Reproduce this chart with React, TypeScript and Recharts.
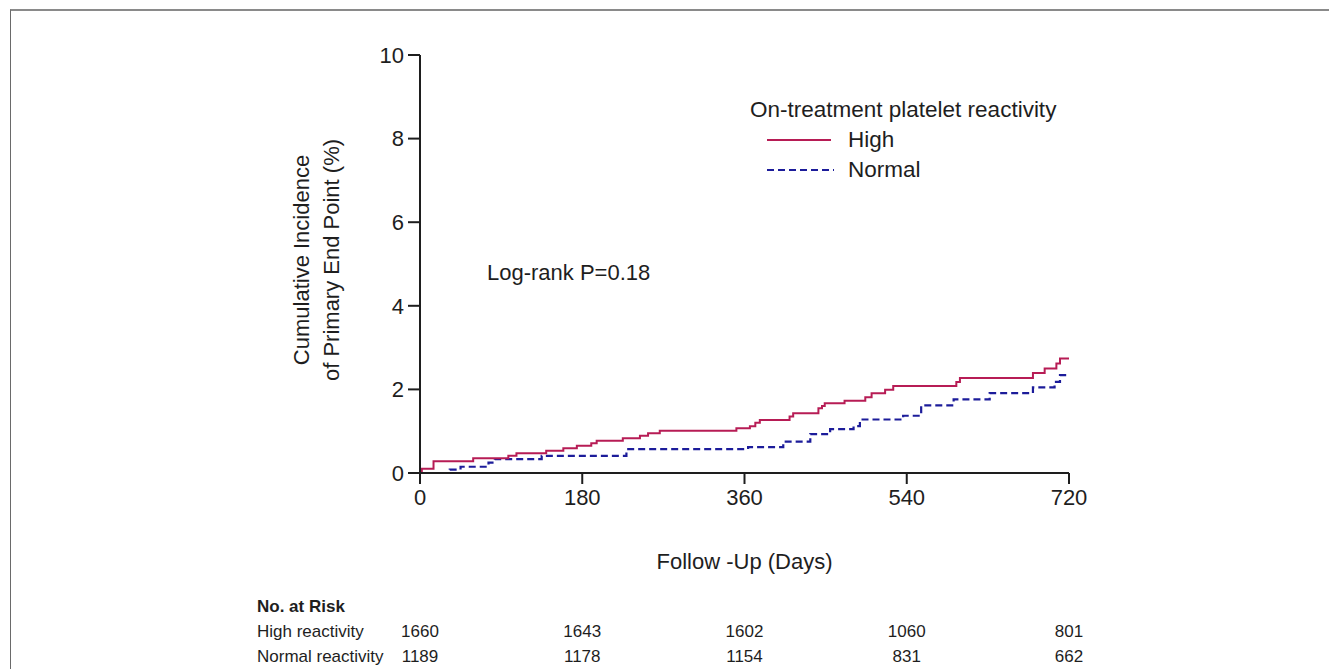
import { LineChart, Line, XAxis, YAxis, Label } from 'recharts';

// follow-up ticks (days) and y ticks (%)
const dayTicks = [0, 180, 360, 540, 720];
const pctTicks = [0, 2, 4, 6, 8, 10];

// High on-treatment platelet reactivity (step curve)
const highDays = [0, 2, 15, 59, 98, 107, 140, 159, 174, 190, 196, 225, 244, 253, 266, 351, 366, 372, 377, 410, 414, 442, 446, 449, 471, 494, 501, 516, 525, 595, 599, 680, 693, 706, 710, 720];
const highPct = [0, 0.1, 0.28, 0.35, 0.41, 0.47, 0.53, 0.59, 0.65, 0.71, 0.77, 0.83, 0.89, 0.95, 1.01, 1.07, 1.12, 1.2, 1.27, 1.35, 1.43, 1.55, 1.6, 1.67, 1.73, 1.81, 1.91, 1.99, 2.08, 2.18, 2.27, 2.39, 2.5, 2.62, 2.74, 2.74];

// Normal on-treatment platelet reactivity
const normalDays = [0, 33, 45, 76, 83, 135, 229, 364, 403, 433, 455, 481, 488, 536, 556, 592, 632, 680, 704, 710, 720];
const normalPct = [0, 0.08, 0.15, 0.25, 0.33, 0.41, 0.57, 0.62, 0.75, 0.93, 1.05, 1.12, 1.28, 1.37, 1.62, 1.76, 1.91, 2.05, 2.18, 2.34, 2.34];

// number at risk
const riskHigh = [1660, 1643, 1602, 1060, 801];
const riskNormal = [1189, 1178, 1154, 831, 662];

const highData = highDays.map((d, i) => ({ day: d, pct: highPct[i] }));
const normalData = normalDays.map((d, i) => ({ day: d, pct: normalPct[i] }));

const RED = '#b71c55';
const BLUE = '#1c1c9a';
const INK = '#1e1e1e';
const FONT = '"Liberation Sans", Arial, sans-serif';

const W = 1329;
const H = 669;
const PLOT_LEFT = 420;
const PLOT_RIGHT = 1069;

const LegendBox = () => (
    <div style={{ position: 'absolute', left: 750, top: 95, fontSize: 22.5, color: INK, lineHeight: '30px' }}>
        <div>On-treatment platelet reactivity</div>
        <div style={{ display: 'flex', alignItems: 'center' }}>
            <svg width={98} height={30}>
                <line x1={17} x2={81} y1={15} y2={15} stroke={RED} strokeWidth={2} />
            </svg>
            <span>High</span>
        </div>
        <div style={{ display: 'flex', alignItems: 'center' }}>
            <svg width={98} height={30}>
                <line x1={17} x2={84} y1={15} y2={15} stroke={BLUE} strokeWidth={2} strokeDasharray="7 4" />
            </svg>
            <span>Normal</span>
        </div>
    </div>
);

const YTitle = ({ viewBox }: any) => {
    const cy = viewBox.y + viewBox.height / 2 - 4;
    const x1 = viewBox.x + 21;
    const x2 = viewBox.x + 51;
    return (
        <g fontFamily={FONT} fontSize={22} fill={INK} textAnchor="middle">
            <text x={x1} y={cy} transform={`rotate(-90 ${x1} ${cy})`} dominantBaseline="central">Cumulative Incidence</text>
            <text x={x2} y={cy} transform={`rotate(-90 ${x2} ${cy})`} dominantBaseline="central">of Primary End Point (%)</text>
        </g>
    );
};

const XTitle = ({ viewBox }: any) => (
    <text x={viewBox.x + viewBox.width / 2} y={viewBox.y + 88} fontFamily={FONT} fontSize={22} fill={INK} textAnchor="middle" dominantBaseline="central">
        Follow -Up (Days)
    </text>
);

const tickX = (d: number) => PLOT_LEFT + (d / 720) * (PLOT_RIGHT - PLOT_LEFT);

const App = () => {
    return (
        <div style={{ position: 'absolute', left: 0, top: 0, width: W, height: H, background: '#fff', fontFamily: FONT }}>
            {/* frame */}
            <div style={{ position: 'absolute', left: 10, top: 9, right: 0, bottom: 0, borderTop: '2px solid #8a8a8a', borderLeft: '1.5px solid #6a6a6a' }} />

            <div style={{ position: 'absolute', left: 0, top: 0 }}>
                <LineChart width={W} height={H} margin={{ top: 55, right: W - PLOT_RIGHT, bottom: 156, left: 280 }}>
                    <XAxis
                        type="number"
                        dataKey="day"
                        domain={[0, 720]}
                        ticks={dayTicks}
                        allowDuplicatedCategory={false}
                        height={40}
                        axisLine={{ stroke: INK, strokeWidth: 2 }}
                        tickLine={{ stroke: INK, strokeWidth: 2 }}
                        tickSize={11}
                        tickMargin={5}
                        tick={{ fill: INK, fontSize: 22, fontFamily: FONT }}
                    >
                        <Label content={XTitle} />
                    </XAxis>
                    <YAxis
                        type="number"
                        domain={[0, 10]}
                        ticks={pctTicks}
                        width={140}
                        axisLine={{ stroke: INK, strokeWidth: 2 }}
                        tickLine={{ stroke: INK, strokeWidth: 2 }}
                        tickSize={12}
                        tickMargin={4}
                        tick={{ fill: INK, fontSize: 22, fontFamily: FONT }}
                    >
                        <Label content={YTitle} />
                    </YAxis>
                    <Line data={normalData} dataKey="pct" name="Normal" type="stepAfter" stroke={BLUE} strokeWidth={2.2} strokeDasharray="7 4" dot={false} isAnimationActive={false} />
                    <Line data={highData} dataKey="pct" name="High" type="stepAfter" stroke={RED} strokeWidth={2} dot={false} isAnimationActive={false} />
                </LineChart>
            </div>

            <LegendBox />

            <div style={{ position: 'absolute', left: 487, top: 259, fontSize: 22, color: INK, lineHeight: '28px' }}>Log-rank P=0.18</div>

            {/* number at risk table */}
            <div style={{ position: 'absolute', left: 257, top: 595, fontSize: 17, fontWeight: 'bold', color: INK, lineHeight: '24px' }}>No. at Risk</div>
            <div style={{ position: 'absolute', left: 257, top: 620, fontSize: 17, color: INK, lineHeight: '24px' }}>High reactivity</div>
            <div style={{ position: 'absolute', left: 257, top: 645, fontSize: 17, color: INK, lineHeight: '24px' }}>Normal reactivity</div>
            {dayTicks.map((d, i) => (
                <div key={`h-${d}`} style={{ position: 'absolute', left: tickX(d) - 40, width: 80, textAlign: 'center', top: 620, fontSize: 17, color: INK, lineHeight: '24px' }}>
                    {riskHigh[i]}
                </div>
            ))}
            {dayTicks.map((d, i) => (
                <div key={`n-${d}`} style={{ position: 'absolute', left: tickX(d) - 40, width: 80, textAlign: 'center', top: 645, fontSize: 17, color: INK, lineHeight: '24px' }}>
                    {riskNormal[i]}
                </div>
            ))}
        </div>
    );
};

export default App;
